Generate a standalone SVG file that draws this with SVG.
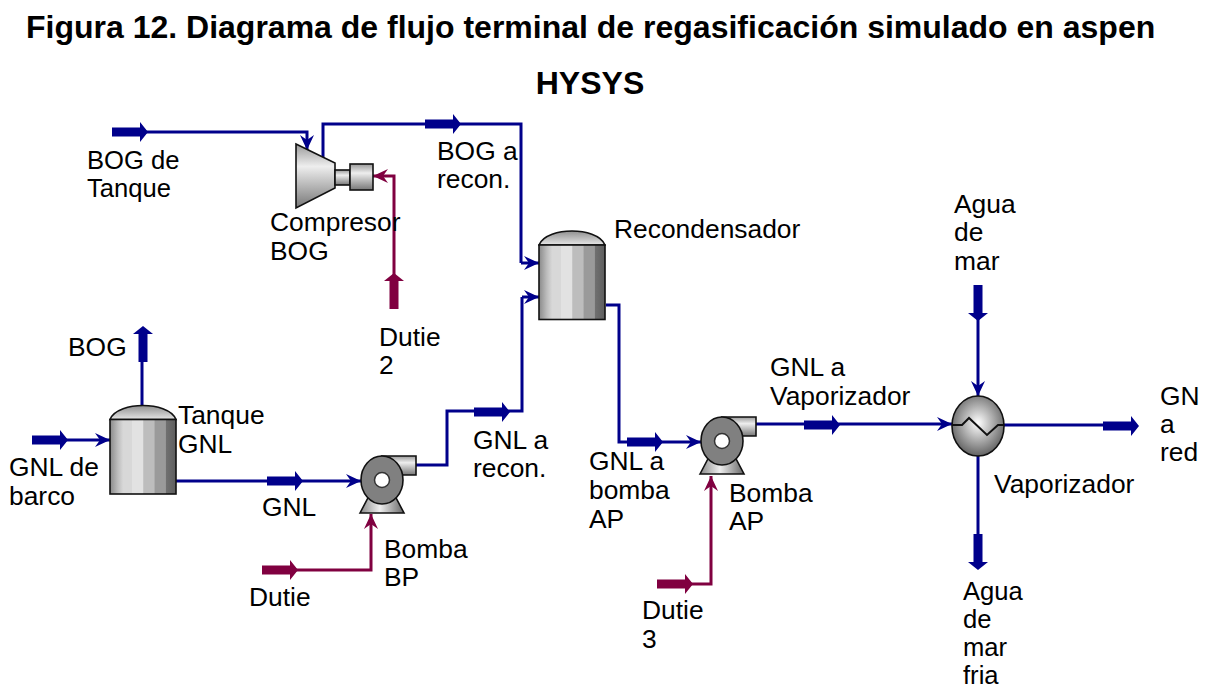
<svg xmlns="http://www.w3.org/2000/svg" xmlns:xlink="http://www.w3.org/1999/xlink" width="1212" height="690" viewBox="0 0 1212 690">
<style>
text{font-family:"Liberation Sans",Arial,sans-serif;font-size:26.4px;fill:#000}
text.n{font-size:25.6px}
text.t{font-size:32px;font-weight:bold}
.s{fill:none;stroke:#00008b;stroke-width:3}
.d{fill:none;stroke:#800040;stroke-width:3}
.o{stroke:#111;stroke-width:1.6}
</style>
<defs>
<linearGradient id="v"><stop offset="0" stop-color="#8a8a8a"/><stop offset=".12" stop-color="#bdbdbd"/><stop offset=".2" stop-color="#d8d8d8"/><stop offset=".33" stop-color="#d8d8d8"/><stop offset=".34" stop-color="#e2e2e2"/><stop offset=".5" stop-color="#e2e2e2"/><stop offset=".51" stop-color="#bdbdbd"/><stop offset=".67" stop-color="#bdbdbd"/><stop offset=".68" stop-color="#9a9a9a"/><stop offset=".84" stop-color="#9a9a9a"/><stop offset=".85" stop-color="#707070"/><stop offset="1" stop-color="#5e5e5e"/></linearGradient>
<linearGradient id="dome" x1="0" y1="0" x2="0" y2="1"><stop offset="0" stop-color="#909090"/><stop offset="1" stop-color="#e6e6e6"/></linearGradient>
<linearGradient id="h" x1="0" y1="0" x2="0" y2="1"><stop offset="0" stop-color="#999"/><stop offset=".35" stop-color="#eee"/><stop offset="1" stop-color="#777"/></linearGradient>
<linearGradient id="b"><stop offset="0" stop-color="#888"/><stop offset=".45" stop-color="#eee"/><stop offset="1" stop-color="#666"/></linearGradient>
<radialGradient id="r" cx=".5" cy=".45" r=".6"><stop offset="0" stop-color="#fff"/><stop offset="1" stop-color="#555"/></radialGradient>
<marker id="ab" markerUnits="userSpaceOnUse" markerWidth="18" markerHeight="18" refX="15" refY="9" orient="auto"><path d="M0 2 L15 9 L0 16 L5 9Z" fill="#00008b"/></marker>
<marker id="am" markerUnits="userSpaceOnUse" markerWidth="18" markerHeight="18" refX="15" refY="9" orient="auto"><path d="M0 2 L15 9 L0 16 L5 9Z" fill="#800040"/></marker>
<path id="fb" d="M0-4.500H28V-10L36 0L28 10V4.500H0Z" fill="#00008b"/>
<path id="fm" d="M0-4.500H28V-10L36 0L28 10V4.500H0Z" fill="#800040"/>
<g id="pump">
<path d="M-22 33L-12 14H12L22 33Z" fill="url(#b)" class="o"/>
<path d="M0-24H34V-5H10Z" fill="url(#h)" class="o"/>
<ellipse cx="0" cy="0" rx="21" ry="24" fill="#808080" class="o"/>
<circle r="7.500" fill="#fff" stroke="#333" stroke-width="1.500"/>
</g>
<g id="vessel">
<path d="M0 14C4 4 20 0 33 0S62 4 66 14Z" fill="url(#dome)" class="o"/>
<rect y="14" width="66" height="74.500" fill="url(#v)" class="o"/>
</g>
</defs>
<rect width="1212" height="690" fill="#fff"/>
<g id="title">
<text class="t" x="26" y="38">Figura 12. Diagrama de flujo terminal de regasificación simulado en aspen</text>
<text class="t" x="590" y="94" text-anchor="middle">HYSYS</text>
</g>
<g id="connectors">
<path class="s" marker-end="url(#ab)" d="M140 132H307V150"/>
<path class="s" d="M323 160V124H521V263"/>
<path class="s" marker-end="url(#ab)" d="M521 263H539"/>
<path class="s" marker-end="url(#ab)" d="M522 297H539"/>
<path class="s" d="M416 465H447V411H522V297"/>
<path class="s" marker-end="url(#ab)" d="M606 305H619V442H701"/>
<path class="s" marker-end="url(#ab)" d="M756 424H952"/>
<path class="s" marker-end="url(#ab)" d="M978 310V396"/>
<path class="s" d="M1004 425H1110"/>
<path class="s" d="M978 456V535"/>
<path class="s" d="M142 405V355"/>
<path class="s" marker-end="url(#ab)" d="M60 440H110"/>
<path class="s" marker-end="url(#ab)" d="M176 481H361"/>
<path class="d" marker-end="url(#am)" d="M290 570H371V514"/>
<path class="d" marker-end="url(#am)" d="M685 584H711V476"/>
<path class="d" marker-end="url(#am)" d="M394 290V176H373"/>
<use xlink:href="#fb" href="#fb" x="112" y="132"/>
<use xlink:href="#fb" href="#fb" x="425" y="124"/>
<use xlink:href="#fb" href="#fb" x="474" y="412"/>
<use xlink:href="#fb" href="#fb" x="627" y="442"/>
<use xlink:href="#fb" href="#fb" x="804" y="425"/>
<use xlink:href="#fb" href="#fb" x="1103" y="426"/>
<use xlink:href="#fb" href="#fb" x="32" y="440"/>
<use xlink:href="#fb" href="#fb" x="267" y="481"/>
<use xlink:href="#fb" href="#fb" transform="translate(978 285) rotate(90)"/>
<use xlink:href="#fb" href="#fb" transform="translate(978 534) rotate(90)"/>
<use xlink:href="#fb" href="#fb" transform="translate(143 362) rotate(-90)"/>
<use xlink:href="#fm" href="#fm" x="262" y="570"/>
<use xlink:href="#fm" href="#fm" x="657" y="584"/>
<use xlink:href="#fm" href="#fm" transform="translate(394 309) rotate(-90)"/>
</g>
<g id="tanque-gnl"><use xlink:href="#vessel" href="#vessel" x="110" y="405.500"/><text x="178" y="424">Tanque</text><text x="178" y="453">GNL</text></g>
<g id="recondensador"><use xlink:href="#vessel" href="#vessel" x="539" y="231"/><text x="614" y="238">Recondensador</text></g>
<g id="compresor-bog">
<path d="M296 144L335 163V188L296 208Z" fill="url(#h)" class="o"/>
<rect x="335" y="170" width="15" height="15" fill="url(#h)" class="o"/>
<rect x="350" y="164" width="23" height="26" fill="url(#h)" class="o"/>
<text x="270" y="231">Compresor</text><text x="270" y="260">BOG</text>
</g>
<g id="bomba-bp"><use xlink:href="#pump" href="#pump" x="382" y="480"/><text x="384" y="558">Bomba</text><text x="384" y="586">BP</text></g>
<g id="bomba-ap"><use xlink:href="#pump" href="#pump" x="722" y="441"/><text x="729" y="502">Bomba</text><text x="729" y="530">AP</text></g>
<g id="vaporizador">
<ellipse cx="978" cy="426" rx="26" ry="30" fill="url(#r)" class="o"/>
<path d="M952 425H962L969 418L987 435L998 425H1004" fill="none" stroke="#111" stroke-width="2"/>
<text x="994" y="493">Vaporizador</text>
</g>
<g id="labels">
<text class="n" x="87" y="169">BOG de</text><text class="n" x="87" y="197">Tanque</text>
<text x="437" y="160">BOG a</text><text x="437" y="188">recon.</text>
<text x="954" y="213">Agua</text><text x="954" y="241">de</text><text x="954" y="270">mar</text>
<text x="379" y="346">Dutie</text><text x="379" y="374">2</text>
<text x="68" y="356">BOG</text>
<text x="9" y="476">GNL de</text><text x="9" y="505">barco</text>
<text x="262" y="516">GNL</text>
<text x="473" y="449">GNL a</text><text x="473" y="477">recon.</text>
<text x="589" y="470">GNL a</text><text x="589" y="499">bomba</text><text x="589" y="528">AP</text>
<text x="770" y="376">GNL a</text><text x="770" y="405">Vaporizador</text>
<text x="249" y="606">Dutie</text>
<text x="642" y="619">Dutie</text><text x="642" y="648">3</text>
<text x="1160" y="405">GN</text><text x="1160" y="433">a</text><text x="1160" y="461">red</text>
<text class="n" x="963" y="600">Agua</text><text class="n" x="963" y="628">de</text><text class="n" x="963" y="656">mar</text><text class="n" x="963" y="684">fria</text>
</g>
</svg>
